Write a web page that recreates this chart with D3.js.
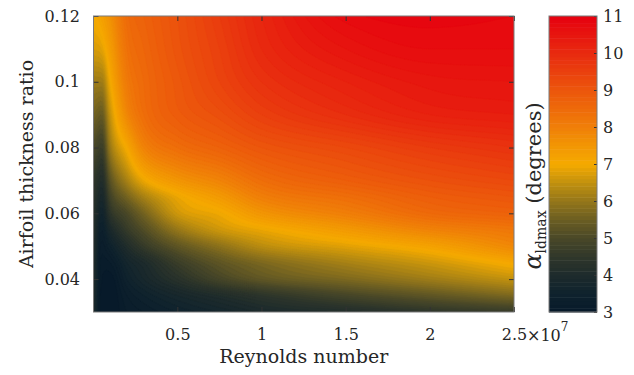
<!DOCTYPE html>
<html>
<head>
<meta charset="utf-8">
<script src="https://cdn.jsdelivr.net/npm/d3@7"></script>
<style>
  html, body { margin: 0; padding: 0; background: #fff; }
  svg { display: block; }
  text { font-family: "DejaVu Serif", "Liberation Serif", serif; fill: #262626; }
</style>
</head>
<body>
<svg id="chart" width="634" height="375"></svg>
<script>
// Reynolds numbers of the computed grid columns
const reynolds = [2e4, 5e5, 1e6, 2e6, 3e6, 5e6, 7.5e6, 1e7, 1.5e7, 2e7, 2.5e7];
// Airfoil thickness ratios of the grid rows
const thickness = [0.03, 0.035, 0.04, 0.045, 0.05, 0.055, 0.06, 0.065, 0.07, 0.08, 0.09, 0.10, 0.11, 0.12];
// Angle of attack at max lift-to-drag (degrees); one row per thickness, one entry per Reynolds number
const alphaLdmax = [
  [4.0, 3.05, 3.0, 3.2, 3.3, 3.5, 3.7, 3.9, 4.1, 4.4, 4.6],
  [4.05, 3.05, 3.0, 3.3, 3.5, 3.8, 4.1, 4.4, 4.9, 5.3, 5.7],
  [4.1, 3.1, 3.05, 3.5, 3.8, 4.3, 4.9, 5.3, 5.7, 6.1, 6.5],
  [4.15, 3.15, 3.2, 3.7, 4.0, 4.7, 5.3, 5.7, 6.2, 6.6, 7.1],
  [4.2, 3.25, 3.5, 4.1, 4.6, 5.3, 5.9, 6.4, 6.8, 7.2, 7.8],
  [4.25, 3.4, 3.9, 4.6, 5.1, 6.0, 6.6, 6.9, 7.4, 7.9, 8.2],
  [4.3, 3.6, 4.4, 5.0, 5.6, 6.6, 6.95, 7.5, 8.0, 8.5, 8.7],
  [4.4, 3.85, 4.8, 5.6, 6.2, 6.9, 7.4, 8.0, 8.4, 8.8, 9.0],
  [4.5, 4.1, 5.2, 6.2, 6.9, 7.5, 7.9, 8.4, 8.8, 9.1, 9.3],
  [5.0, 4.7, 6.0, 7.05, 7.9, 8.4, 8.7, 9.0, 9.3, 9.6, 9.8],
  [5.6, 5.4, 6.5, 7.8, 8.4, 8.85, 9.15, 9.5, 9.9, 10.2, 10.3],
  [6.1, 6.1, 6.95, 8.1, 8.5, 8.95, 9.4, 9.8, 10.2, 10.45, 10.5],
  [6.7, 6.8, 7.3, 8.3, 8.6, 9.05, 9.5, 10.0, 10.5, 10.7, 10.7],
  [7.0, 7.25, 7.6, 8.45, 8.7, 9.1, 9.6, 10.1, 10.75, 10.85, 10.8]
];

const xTicks = [0.5e7, 1e7, 1.5e7, 2e7, 2.5e7];
const xTickLabels = ["0.5", "1", "1.5", "2", "2.5"];
const yTicks = [0.04, 0.06, 0.08, 0.10, 0.12];
const yTickLabels = ["0.04", "0.06", "0.08", "0.1", "0.12"];
const cbTicks = [3, 4, 5, 6, 7, 8, 9, 10, 11];

// Colormap: dark navy -> olive -> gold -> orange -> red
const cmapValues = [3.0, 3.5, 4.0, 4.5, 5.0, 5.5, 6.0, 6.5, 7.0, 7.5, 8.0, 8.5, 9.0, 9.5, 10.0, 10.5, 11.0];
const cmapColors = ["#06192a", "#0f222d", "#1d2b2c", "#30372a", "#4a4828", "#6b5e22", "#94761a", "#c2910e",
                    "#f5aa00", "#f29604", "#f07f08", "#ee6a0a", "#ec560c", "#ea400e", "#e82a0f", "#e7150f", "#e6000f"];

const svg = d3.select("#chart");
const plot = { left: 93.5, right: 514, top: 16, bottom: 312 };
const cb = { left: 549, right: 597 };

const x = d3.scaleLinear().domain([reynolds[0], reynolds[reynolds.length - 1]]).range([plot.left, plot.right]);
const y = d3.scaleLinear().domain([thickness[0], thickness[thickness.length - 1]]).range([plot.bottom, plot.top]);
const color = d3.scaleLinear().domain(cmapValues).range(cmapColors).clamp(true);
const cbY = d3.scaleLinear().domain([3, 11]).range([plot.bottom, plot.top]);

// Monotone (Fritsch-Carlson) cubic through the given samples
function monotone(xs, ys) {
  const n = xs.length, d = [], m = new Array(n);
  for (let k = 0; k < n - 1; k++) d.push((ys[k + 1] - ys[k]) / (xs[k + 1] - xs[k]));
  m[0] = d[0]; m[n - 1] = d[n - 2];
  for (let k = 1; k < n - 1; k++) m[k] = d[k - 1] * d[k] <= 0 ? 0 : (d[k - 1] + d[k]) / 2;
  for (let k = 0; k < n - 1; k++) {
    if (d[k] === 0) { m[k] = 0; m[k + 1] = 0; continue; }
    const a = m[k] / d[k], b = m[k + 1] / d[k], s = a * a + b * b;
    if (s > 9) { const tau = 3 / Math.sqrt(s); m[k] = tau * a * d[k]; m[k + 1] = tau * b * d[k]; }
  }
  return v => {
    let k = Math.min(Math.max(d3.bisectRight(xs, v) - 1, 0), n - 2);
    const h = xs[k + 1] - xs[k], t = (v - xs[k]) / h, t2 = t * t, t3 = t2 * t;
    return (2 * t3 - 3 * t2 + 1) * ys[k] + (t3 - 2 * t2 + t) * h * m[k] +
           (-2 * t3 + 3 * t2) * ys[k + 1] + (t3 - t2) * h * m[k + 1];
  };
}

// Resample the field on a fine regular grid (cell centres)
const nx = 210, ny = 148;
const re0 = x.domain()[0], re1 = x.domain()[1];
const t0 = y.domain()[0], t1 = y.domain()[1];
const fineRe = d3.range(nx).map(i => re0 + (i + 0.5) / nx * (re1 - re0));
const fineT = d3.range(ny).map(j => t0 + (j + 0.5) / ny * (t1 - t0));
const rowsFine = alphaLdmax.map(row => { const f = monotone(reynolds, row); return fineRe.map(f); });
const grid = new Float64Array(nx * ny);
for (let i = 0; i < nx; i++) {
  const f = monotone(thickness, rowsFine.map(r => r[i]));
  for (let j = 0; j < ny; j++) grid[j * nx + i] = f(fineT[j]);
}

const levels = d3.range(3, 11, 0.1).map(v => +v.toFixed(2));
const contours = d3.contours().size([nx, ny]).thresholds(levels)(grid);
const toPixels = d3.geoTransform({
  point(gx, gy) {
    this.stream.point(x(re0 + gx / nx * (re1 - re0)), y(t0 + gy / ny * (t1 - t0)));
  }
});
const path = d3.geoPath(toPixels);

svg.append("defs").append("clipPath").attr("id", "plotClip")
  .append("rect").attr("x", plot.left).attr("y", plot.top)
  .attr("width", plot.right - plot.left).attr("height", plot.bottom - plot.top);

const field = svg.append("g").attr("clip-path", "url(#plotClip)");
field.append("rect").attr("x", plot.left).attr("y", plot.top)
  .attr("width", plot.right - plot.left).attr("height", plot.bottom - plot.top)
  .attr("fill", color(3.05));
field.selectAll("path").data(contours).join("path")
  .attr("d", path)
  .attr("fill", d => color(d.value + 0.05))
  .attr("stroke", d => color(d.value + 0.05))
  .attr("stroke-width", 0.4);

// Axes (ticks pointing inward on all four sides)
const tickFont = g => g.selectAll("text").style("font-size", "16px").attr("fill", "#262626");
const tickLines = g => g.selectAll("line").attr("stroke", "#333").attr("stroke-width", 1);

svg.append("g").attr("transform", `translate(0,${plot.bottom})`)
  .call(d3.axisBottom(x).tickValues(xTicks).tickSize(-5).tickPadding(17)
        .tickFormat((d, i) => xTickLabels[i]))
  .call(g => g.select(".domain").remove()).call(tickFont).call(tickLines);
svg.append("g").attr("transform", `translate(0,${plot.top})`)
  .call(d3.axisTop(x).tickValues(xTicks).tickSize(-5).tickFormat(""))
  .call(g => g.select(".domain").remove()).call(tickLines);
svg.append("g").attr("transform", `translate(${plot.left},0)`)
  .call(d3.axisLeft(y).tickValues(yTicks).tickSize(-5).tickPadding(13.5)
        .tickFormat((d, i) => yTickLabels[i]))
  .call(g => g.select(".domain").remove()).call(tickFont).call(tickLines);
svg.append("g").attr("transform", `translate(${plot.right},0)`)
  .call(d3.axisRight(y).tickValues(yTicks).tickSize(-5).tickFormat(""))
  .call(g => g.select(".domain").remove()).call(tickLines);

svg.append("rect").attr("x", plot.left).attr("y", plot.top)
  .attr("width", plot.right - plot.left).attr("height", plot.bottom - plot.top)
  .attr("fill", "none").attr("stroke", "#7a7a7a").attr("stroke-width", 1);

// Exponent of the x axis
const expo = svg.append("text").attr("x", 527).attr("y", 340.7).style("font-size", "16px");
expo.append("tspan").text("×10");
expo.append("tspan").attr("dy", -10).style("font-size", "12px").text("7");

svg.append("text").attr("x", (plot.left + plot.right) / 2).attr("y", 363)
  .attr("text-anchor", "middle").style("font-size", "19px").text("Reynolds number");
svg.append("text").attr("transform", `translate(33,${(plot.top + plot.bottom) / 2}) rotate(-90)`)
  .attr("text-anchor", "middle").style("font-size", "19px").text("Airfoil thickness ratio");

// Colour bar
const cbBands = levels.map(v => [v, Math.min(v + 0.1, 11)]);
svg.append("g").selectAll("rect").data(cbBands).join("rect")
  .attr("x", cb.left).attr("width", cb.right - cb.left)
  .attr("y", d => cbY(d[1])).attr("height", d => cbY(d[0]) - cbY(d[1]) + 0.5)
  .attr("fill", d => color(d[0] + 0.05));
svg.append("g").attr("transform", `translate(${cb.right},0)`)
  .call(d3.axisRight(cbY).tickValues(cbTicks).tickSize(-3).tickPadding(6).tickFormat(d3.format("d")))
  .call(g => g.select(".domain").remove()).call(tickFont).call(tickLines);
svg.append("rect").attr("x", cb.left).attr("y", plot.top)
  .attr("width", cb.right - cb.left).attr("height", plot.bottom - plot.top)
  .attr("fill", "none").attr("stroke", "#7a7a7a").attr("stroke-width", 1);

const cbLabel = svg.append("text").attr("transform", "translate(541,186) rotate(-90)")
  .attr("text-anchor", "middle").style("font-size", "21px");
cbLabel.append("tspan").style("font-style", "italic").style("font-size", "24px").text("α");
cbLabel.append("tspan").attr("dy", 5).style("font-size", "14px").text("ldmax");
cbLabel.append("tspan").attr("dy", -5).text(" (degrees)");
</script>
</body>
</html>
